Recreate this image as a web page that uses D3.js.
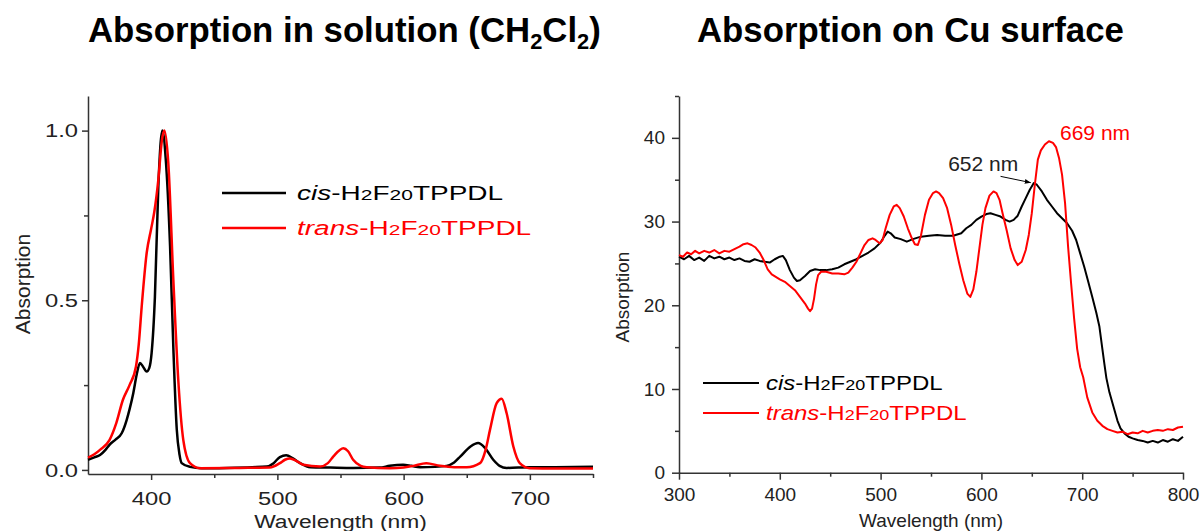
<!DOCTYPE html>
<html>
<head>
<meta charset="utf-8">
<script src="https://cdn.jsdelivr.net/npm/d3@7"></script>
<style>
  body { margin: 0; background: #fff; }
  svg { display: block; font-family: Arial, "Liberation Sans", sans-serif; }
</style>
</head>
<body>
<svg id="chart"></svg>
<script>
// spectra: [wavelength (nm), absorption]
const cisSolution = [[350,0.03],[355,0.037],[359.5,0.044],[364,0.06],[367,0.074],[372,0.09],[376.7,0.108],[380.6,0.147],[383,0.18],[385.9,0.227],[388.5,0.28],[391.2,0.315],[393.5,0.305],[396.5,0.29],[398.5,0.3],[400.4,0.345],[403,0.51],[405.7,0.835],[408.9,1.0],[411.5,0.92],[415,0.66],[417.6,0.36],[420.3,0.12],[422.5,0.045],[424.2,0.02],[430.8,0.009],[440,0.005],[460,0.006],[480,0.008],[491.5,0.01],[497,0.02],[502,0.038],[507,0.043],[512,0.035],[518,0.02],[526,0.008],[541.7,0.007],[560,0.006],[581,0.007],[589,0.012],[599.6,0.015],[606,0.012],[613,0.008],[625,0.009],[634,0.012],[640,0.022],[645,0.04],[653,0.069],[659,0.079],[664.4,0.065],[671,0.03],[676,0.012],[681.6,0.006],[700,0.008],[720,0.008],[750,0.009]];
const transSolution = [[350,0.036],[355,0.046],[359.5,0.059],[367,0.088],[372.4,0.138],[377.6,0.206],[382.9,0.25],[388,0.305],[390.2,0.37],[392.5,0.48],[396.5,0.64],[400,0.71],[402.5,0.76],[405.7,0.855],[408.5,0.97],[410.5,1.0],[413.6,0.905],[417.6,0.56],[421.5,0.265],[425.5,0.088],[430.8,0.02],[438.7,0.005],[470,0.006],[494,0.007],[502,0.02],[506,0.03],[510,0.034],[515,0.027],[520.6,0.015],[533.8,0.01],[540,0.02],[544.4,0.04],[552.3,0.064],[556,0.055],[560,0.03],[566,0.012],[570.7,0.008],[589,0.005],[600,0.007],[607.7,0.012],[618,0.02],[628.8,0.012],[640,0.008],[650,0.008],[660.5,0.02],[665,0.06],[668.4,0.118],[673.7,0.197],[677.7,0.21],[681.6,0.167],[686.9,0.069],[692,0.02],[700,0.005],[720,0.004],[750,0.004]];

const cisSurface = [[300,25.8],[305,25.5],[310,25.9],[315,25.4],[320,25.7],[325,25.3],[330,25.9],[335,25.6],[340,25.8],[345,25.5],[350,25.7],[355,25.4],[360,25.6],[365,25.3],[370,25.2],[375,25.5],[380,25.3],[385,25.2],[390,25.1],[395,25.5],[400,25.8],[403,25.9],[406,25.4],[410,24.2],[414,23.3],[417,22.9],[420,23.0],[425,23.5],[430,24.1],[435,24.3],[440,24.2],[446,24.2],[452,24.3],[458,24.5],[464,24.9],[470,25.2],[476,25.5],[482,25.9],[488,26.3],[494,26.8],[500,27.5],[504,28.3],[507,28.8],[510,28.6],[514,28.1],[520,27.9],[526,27.6],[532,27.9],[540,28.2],[548,28.3],[556,28.4],[564,28.3],[572,28.3],[580,28.6],[585,29.2],[590,29.6],[595,30.2],[600,30.6],[605,30.9],[609,31.0],[614,30.8],[619,30.6],[624,30.2],[628,30.0],[632,30.2],[636,30.7],[640,31.8],[644,32.8],[648,33.8],[652,34.6],[655,34.4],[660,33.6],[665,32.6],[670,31.8],[675,31.0],[680,30.4],[685,29.8],[690,28.9],[694,27.8],[698,26.2],[702,24.6],[706,22.8],[710,21.0],[714,19.1],[717,17.5],[720,14.8],[722,13.0],[724,11.3],[727,9.6],[731,7.9],[735,6.2],[738,5.3],[742,4.7],[746,4.3],[750,4.1],[755,3.9],[760,3.8],[765,3.6],[770,3.8],[775,3.6],[780,3.9],[785,3.7],[790,4.0],[795,3.8],[800,4.3]];
const transSurface = [[300,26.0],[304,25.8],[308,26.3],[312,26.1],[316,26.5],[320,26.2],[325,26.5],[330,26.3],[335,26.6],[340,26.2],[345,26.5],[350,26.4],[355,26.7],[360,27.0],[364,27.3],[368,27.4],[372,27.2],[376,26.9],[380,26.3],[384,25.4],[388,24.3],[392,23.7],[396,23.4],[400,23.1],[405,22.8],[410,22.3],[415,21.8],[420,21.0],[425,20.2],[428,19.6],[430,19.3],[432,19.6],[434,20.8],[436,22.5],[438,23.6],[441,24.0],[446,24.0],[452,23.8],[458,23.8],[464,23.7],[468,23.9],[472,24.5],[476,25.2],[480,26.2],[484,27.2],[488,27.8],[492,28.0],[495,27.8],[499,27.4],[502,27.8],[505,29.2],[509,30.8],[513,31.8],[516,32.0],[519,31.6],[523,30.6],[527,29.2],[531,28.0],[534,27.3],[537,27.2],[540,28.3],[544,30.8],[548,32.6],[552,33.4],[555,33.6],[558,33.4],[562,32.8],[566,31.6],[570,29.6],[574,27.2],[578,25.0],[582,23.0],[586,21.4],[589,21.0],[592,21.9],[595,24.0],[598,26.8],[601,29.6],[604,31.6],[608,33.1],[612,33.6],[615,33.4],[618,32.6],[621,31.0],[625,29.0],[629,26.8],[633,25.4],[636,24.8],[640,25.2],[644,26.6],[647,28.4],[650,31.0],[653,34.4],[656,37.4],[659,38.5],[663,39.2],[667,39.6],[671,39.4],[674,38.9],[677,37.6],[680,35.6],[683,32.2],[686,27.0],[689,22.6],[692,18.4],[695,14.8],[698,12.6],[701,11.4],[705,9.0],[710,7.2],[715,6.2],[720,5.6],[725,5.2],[730,5.0],[735,4.8],[740,4.9],[745,4.6],[750,4.8],[755,4.7],[760,5.0],[765,4.8],[770,5.0],[775,5.1],[780,5.0],[785,5.2],[790,5.1],[795,5.4],[800,5.5]];

// axis ticks
const solutionXTicks = [400, 500, 600, 700];
const solutionXMinor = [450, 550, 650, 750];
const solutionYTicks = [0, 0.5, 1.0];
const solutionYMinor = [0.25, 0.75];
const surfaceXTicks = [300, 400, 500, 600, 700, 800];
const surfaceXMinor = [350, 450, 550, 650, 750];
const surfaceYTicks = [0, 10, 20, 30, 40];
const surfaceYMinor = [5, 15, 25, 35, 45];

const seriesPrefix = ["cis", "trans"];
const seriesColors = ["#000000", "#ff0000"];
const peakWavelengths = [652, 669];
const peakLabels = ["652 nm", "669 nm"];

const W = 1201, H = 531;
const axisColor = "#333";

const svg = d3.select("#chart").attr("width", W).attr("height", H);
svg.append("rect").attr("width", W).attr("height", H).attr("fill", "#fff");

// the left plot was pasted in stretched sideways, so its text is too
function stretchX(sel, sx) {
  sel.each(function() {
    const t = d3.select(this);
    const x0 = +t.attr("x") || 0;
    t.attr("x", x0 / sx).attr("transform", `scale(${sx},1)`);
  });
}

function addTitle(parts, x, baseline, targetWidth) {
  const t = svg.append("text")
    .attr("x", x).attr("y", baseline)
    .attr("font-size", 35).attr("font-weight", "bold").attr("fill", "#000");
  parts.forEach(p => {
    t.append("tspan")
      .attr("font-size", p.sub ? 22 : 35)
      .attr("dy", p.dy || 0)
      .text(p.text);
  });
  const len = t.node().getComputedTextLength();
  const sx = targetWidth / len;
  t.attr("x", x / sx).attr("transform", `scale(${sx},1)`);
}

addTitle([
  { text: "Absorption in solution (CH" }, { text: "2", sub: true, dy: 7 },
  { text: "Cl", dy: -7 }, { text: "2", sub: true, dy: 7 }, { text: ")", dy: -7 }
], 88, 42, 513);
addTitle([{ text: "Absorption on Cu surface" }], 697, 42, 427);

function drawPanel(cfg) {
  const g = svg.append("g");
  const x = d3.scaleLinear().domain(cfg.xDomain).range(cfg.xRange);
  const y = d3.scaleLinear().domain(cfg.yDomain).range(cfg.yRange);
  const bottom = cfg.yRange[0], left = cfg.xRange[0];

  // minor ticks
  g.append("g").attr("transform", `translate(0,${bottom})`)
    .call(d3.axisBottom(x).tickValues(cfg.xMinor).tickSize(cfg.minor).tickFormat(""))
    .call(a => a.select(".domain").remove());
  g.append("g").attr("transform", `translate(${left},0)`)
    .call(d3.axisLeft(y).tickValues(cfg.yMinor).tickSize(cfg.minor).tickFormat(""))
    .call(a => a.select(".domain").remove());

  const xAxis = g.append("g").attr("transform", `translate(0,${bottom})`)
    .call(d3.axisBottom(x).tickValues(cfg.xTicks).tickSize(cfg.major).tickSizeOuter(0)
      .tickPadding(cfg.xPad).tickFormat(d3.format("d")));
  const yAxis = g.append("g").attr("transform", `translate(${left},0)`)
    .call(d3.axisLeft(y).tickValues(cfg.yTicks).tickSize(cfg.major).tickSizeOuter(0)
      .tickPadding(cfg.yPad).tickFormat(cfg.yFormat));

  g.selectAll(".domain, .tick line").attr("stroke", axisColor).attr("stroke-width", 1.5);
  g.selectAll(".tick text").attr("font-size", cfg.tickFont).attr("fill", "#222")
    .attr("font-family", "Arial, 'Liberation Sans', sans-serif");
  if (cfg.sx !== 1) {
    stretchX(xAxis.selectAll(".tick text"), cfg.sx);
    stretchX(yAxis.selectAll(".tick text"), cfg.sx);
  }

  // spectra
  const line = d3.line().x(d => x(d[0])).y(d => y(d[1])).curve(cfg.curve);
  cfg.series.forEach((s, i) => {
    g.append("path").datum(s)
      .attr("fill", "none").attr("stroke", seriesColors[i])
      .attr("stroke-width", cfg.lineWidth).attr("stroke-linejoin", "round")
      .attr("d", line);
  });

  // axis titles
  const xt = g.append("text")
    .attr("x", (cfg.xRange[0] + cfg.xRange[1]) / 2).attr("y", cfg.xTitleY)
    .attr("text-anchor", "middle").attr("font-size", cfg.titleFont).attr("fill", "#222")
    .text("Wavelength (nm)");
  if (cfg.sx !== 1) stretchX(xt, cfg.xTitleSx);
  g.append("text")
    .attr("transform", `translate(${cfg.yTitleX},${cfg.yTitleMid}) rotate(-90)`)
    .attr("text-anchor", "middle").attr("font-size", cfg.yTitleFont).attr("fill", "#222")
    .text("Absorption");

  // legend
  cfg.series.forEach((s, i) => {
    const ly = cfg.legendY + i * cfg.legendGap;
    g.append("line")
      .attr("x1", cfg.legendX[0]).attr("x2", cfg.legendX[1])
      .attr("y1", ly).attr("y2", ly)
      .attr("stroke", seriesColors[i]).attr("stroke-width", cfg.lineWidth);
    const t = g.append("text")
      .attr("x", cfg.legendX[2]).attr("y", ly + 7)
      .attr("font-size", cfg.legendFont).attr("fill", seriesColors[i]);
    t.append("tspan").attr("font-style", "italic").text(seriesPrefix[i]);
    t.append("tspan").text("-H");
    t.append("tspan").attr("font-size", cfg.legendFont * 0.75).text("2");
    t.append("tspan").text("F");
    t.append("tspan").attr("font-size", cfg.legendFont * 0.75).text("20");
    t.append("tspan").text("TPPDL");
    stretchX(t, cfg.legendSx);
  });

  return { g, x, y };
}

drawPanel({
  series: [cisSolution, transSolution],
  xDomain: [350, 750], xRange: [88, 593],
  yDomain: [-0.012, 1.102], yRange: [474, 96],
  xTicks: solutionXTicks, xMinor: solutionXMinor,
  yTicks: solutionYTicks, yMinor: solutionYMinor,
  yFormat: d3.format(".1f"),
  major: 6, minor: 4, xPad: 12, yPad: 4,
  tickFont: 19, sx: 1.25,
  curve: d3.curveMonotoneX, lineWidth: 2.5,
  titleFont: 19, xTitleY: 528, xTitleSx: 1.2,
  yTitleX: 30, yTitleMid: 284, yTitleFont: 21,
  legendX: [222, 286, 297], legendY: 193, legendGap: 35,
  legendFont: 20, legendSx: 1.4
});

const surface = drawPanel({
  series: [cisSurface, transSurface],
  xDomain: [300, 800], xRange: [679, 1183],
  yDomain: [0, 45], yRange: [472.7, 96],
  xTicks: surfaceXTicks, xMinor: surfaceXMinor,
  yTicks: surfaceYTicks, yMinor: surfaceYMinor,
  yFormat: d3.format("d"),
  major: 7, minor: 4, xPad: 8, yPad: 7,
  tickFont: 19, sx: 1,
  curve: d3.curveLinear, lineWidth: 2,
  titleFont: 19, xTitleY: 527, xTitleSx: 1,
  yTitleX: 629, yTitleMid: 297, yTitleFont: 19,
  legendX: [703, 759, 766], legendY: 383, legendGap: 30,
  legendFont: 20, legendSx: 1.2
});

// peak labels on the surface plot
const sx = surface.x, sy = surface.y;
const defs = svg.append("defs");
defs.append("marker").attr("id", "arrow")
  .attr("viewBox", "0 0 10 10").attr("refX", 10).attr("refY", 5)
  .attr("markerWidth", 6).attr("markerHeight", 6).attr("orient", "auto")
  .append("path").attr("d", "M0,1L10,5L0,9Z").attr("fill", "#000");

const cisPeak = cisSurface.find(d => d[0] === peakWavelengths[0]);
surface.g.append("line")
  .attr("x1", sx(peakWavelengths[0] - 33)).attr("y1", sy(cisPeak[1] + 0.8))
  .attr("x2", sx(peakWavelengths[0] - 3)).attr("y2", sy(cisPeak[1] + 0.05))
  .attr("stroke", "#000").attr("stroke-width", 1)
  .attr("marker-end", "url(#arrow)");
surface.g.append("text")
  .attr("x", sx(peakWavelengths[0] - 85)).attr("y", sy(cisPeak[1] + 1.4))
  .attr("font-size", 21).attr("fill", "#222").text(peakLabels[0]);

const transPeak = transSurface.reduce((a, b) => (b[1] > a[1] ? b : a));
surface.g.append("text")
  .attr("x", sx(peakWavelengths[1] + 9)).attr("y", sy(transPeak[1] + 0.2))
  .attr("font-size", 21).attr("fill", "#ff0000").text(peakLabels[1]);
</script>
</body>
</html>
